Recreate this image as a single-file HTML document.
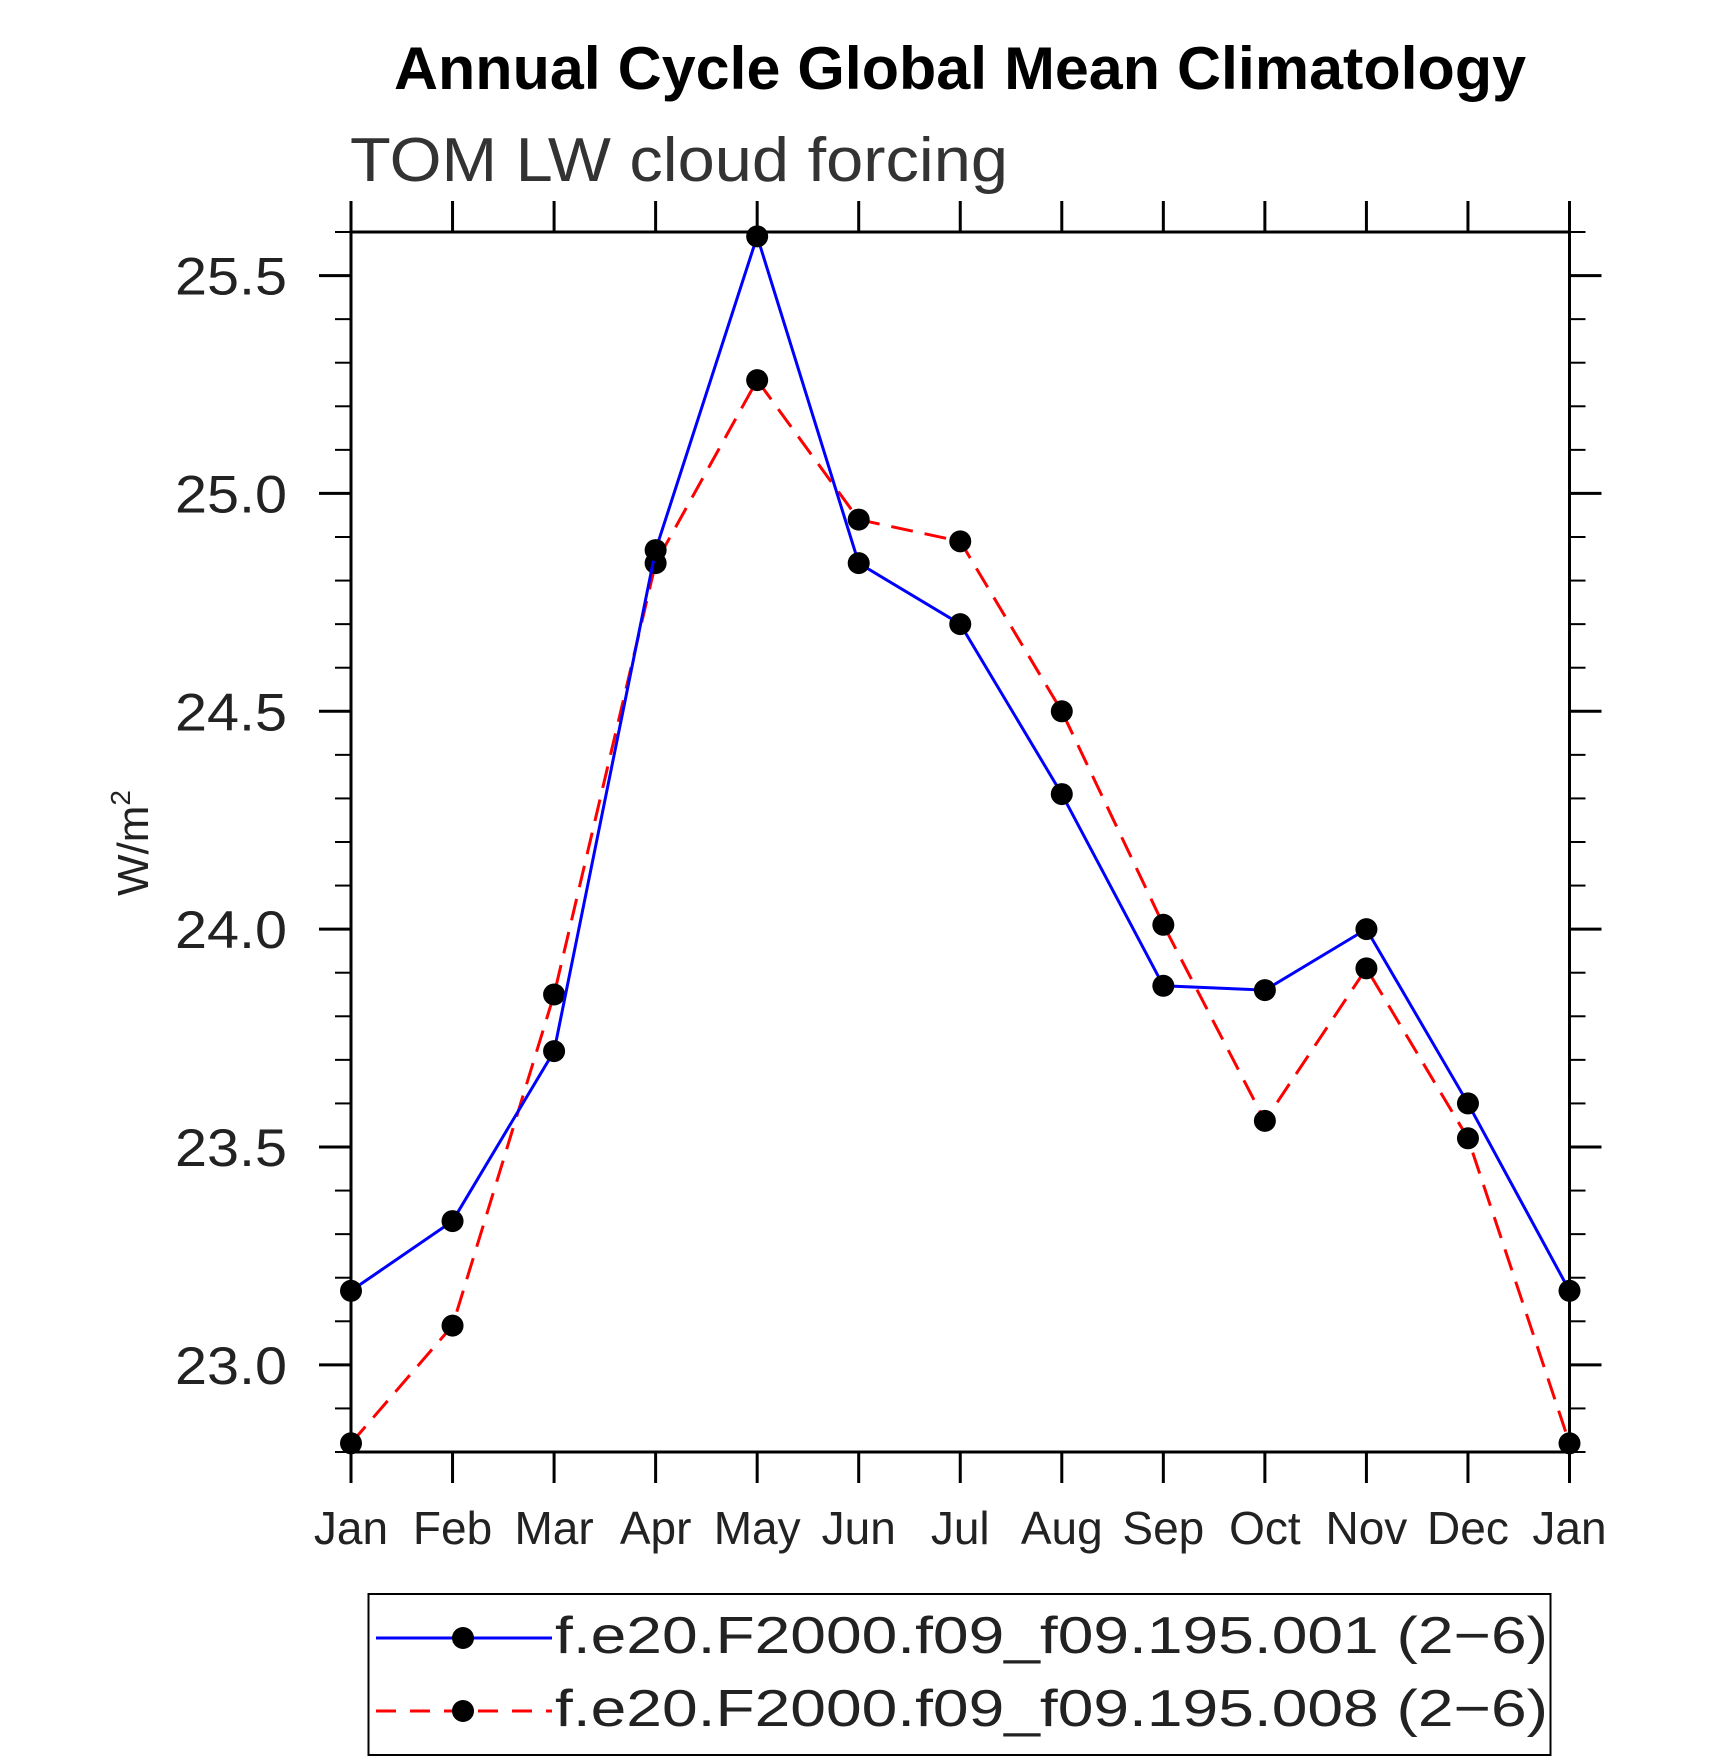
<!DOCTYPE html>
<html><head><meta charset="utf-8"><style>
html,body{margin:0;padding:0;background:#fff;}
svg{display:block;}
text{font-family:"Liberation Sans","DejaVu Sans",sans-serif;}
</style></head><body>
<svg id="chart" width="1710" height="1762" viewBox="0 0 1710 1762" xmlns="http://www.w3.org/2000/svg">
<text x="960" y="89" text-anchor="middle" font-size="60" font-weight="bold" textLength="1132" lengthAdjust="spacingAndGlyphs">Annual Cycle Global Mean Climatology</text>
<text x="350" y="181" font-size="62" fill="#333" textLength="658" lengthAdjust="spacingAndGlyphs">TOM LW cloud forcing</text>
<text transform="translate(148,843) rotate(-90)" text-anchor="middle" font-size="44" fill="#222">W/m<tspan font-size="28" dy="-18">2</tspan></text>
<g id="axes"></g>
<g id="series"></g>
<g>
<rect x="368.5" y="1594" width="1182" height="161" fill="none" stroke="#000" stroke-width="2"/>
<g>
<line x1="376" y1="1638" x2="552" y2="1638" stroke="#0000ff" stroke-width="3"/>
<circle cx="463" cy="1638" r="11" fill="#000"/>
<text x="555" y="1653" font-size="52" fill="#222" textLength="993" lengthAdjust="spacingAndGlyphs">f.e20.F2000.f09_f09.195.001 (2−6)</text>
</g>
<g>
<line x1="376" y1="1711" x2="552" y2="1711" stroke="#ff0000" stroke-width="3" stroke-dasharray="20,14"/>
<circle cx="463" cy="1711" r="11" fill="#000"/>
<text x="555" y="1726" font-size="52" fill="#222" textLength="993" lengthAdjust="spacingAndGlyphs">f.e20.F2000.f09_f09.195.008 (2−6)</text>
</g>
</g>
</svg>
<script>
const months = ["Jan","Feb","Mar","Apr","May","Jun","Jul","Aug","Sep","Oct","Nov","Dec","Jan"];
const yTickLabels = ["23.0","23.5","24.0","24.5","25.0","25.5"];
const series001 = [23.17,23.33,23.72,24.87,25.59,24.84,24.70,24.31,23.87,23.86,24.00,23.60,23.17];
const series008 = [22.82,23.09,23.85,24.84,25.26,24.94,24.89,24.50,24.01,23.56,23.91,23.52,22.82];

const NS = "http://www.w3.org/2000/svg";
const L = 351, R = 1569.5, T = 232, B = 1452;
const yMin = 22.8, yMax = 25.6;
const xS = i => L + (R - L) * i / (months.length - 1);
const yS = v => B - (B - T) * (v - yMin) / (yMax - yMin);
function mk(tag, attrs, parent) {
  const e = document.createElementNS(NS, tag);
  for (const k in attrs) e.setAttribute(k, attrs[k]);
  parent.appendChild(e);
  return e;
}
const axes = document.getElementById('axes');
const frame = mk('rect', {x:L, y:T, width:R-L, height:B-T, fill:'none', stroke:'#000', 'stroke-width':3}, axes);


months.forEach((m, i) => {
  const x = xS(i);
  mk('line', {x1:x, y1:T, x2:x, y2:T-31, stroke:'#000', 'stroke-width':3}, axes);
  mk('line', {x1:x, y1:B, x2:x, y2:B+31, stroke:'#000', 'stroke-width':3}, axes);
  const t = mk('text', {x:x, y:1544, 'text-anchor':'middle', 'font-size':46, fill:'#222'}, axes);
  
  
  t.textContent = m;
});
for (let k = 0; k <= 28; k++) {
  const v = yMin + k * 0.1;
  const y = yS(v);
  const major = Math.abs((v * 10) % 5) < 0.01 || Math.abs((v * 10) % 5 - 5) < 0.01;
  const len = major ? 32 : 16;
  mk('line', {x1:L, y1:y, x2:L-len, y2:y, stroke:'#000', 'stroke-width':major?3:2}, axes);
  mk('line', {x1:R, y1:y, x2:R+len, y2:y, stroke:'#000', 'stroke-width':major?3:2}, axes);
}
yTickLabels.forEach(lbl => {
  const y = yS(parseFloat(lbl));
  const t = mk('text', {x:287, y:y+19, 'text-anchor':'end', 'font-size':53, fill:'#222', textLength:112, lengthAdjust:'spacingAndGlyphs'}, axes);
  
  
  t.textContent = lbl;
});
const sg = document.getElementById('series');
function drawSeries(vals, color, dash, name) {
  const g = mk('g', {}, sg);
  
  
  const pts = vals.map((v, i) => xS(i) + ',' + yS(v)).join(' ');
  const attrs = {points:pts, fill:'none', stroke:color, 'stroke-width':3};
  if (dash) attrs['stroke-dasharray'] = dash;
  const pl = mk('polyline', attrs, g);
  
  
  vals.forEach((v, i) => {
    const c = mk('circle', {cx:xS(i), cy:yS(v), r:11, fill:'#000'}, g);
    
    
  });
}
drawSeries(series008, '#ff0000', '22,12', 'series-008');
drawSeries(series001, '#0000ff', null, 'series-001');
</script>
</body></html>
